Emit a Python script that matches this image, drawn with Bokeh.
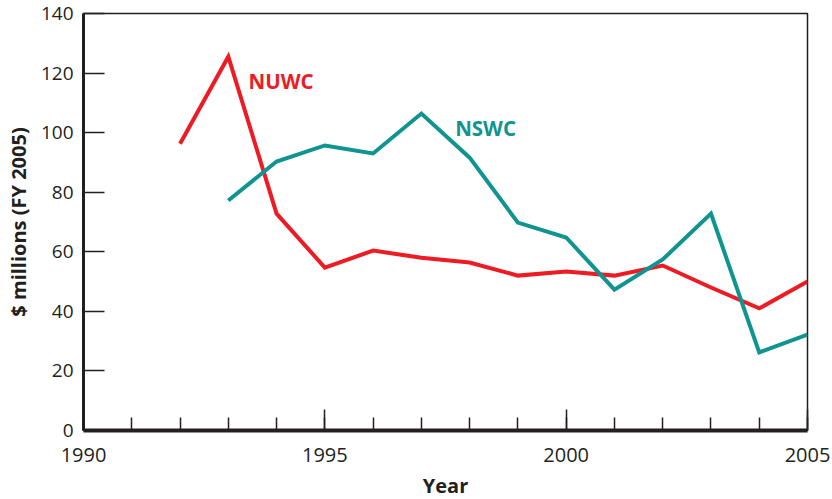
from bokeh.plotting import figure
from bokeh.models import Range1d, FixedTicker
from bokeh.core.properties import value
from bokeh.embed import file_html
from bokeh.resources import INLINE

years_nuwc = [1992, 1993, 1994, 1995, 1996, 1997, 1998, 1999, 2000, 2001, 2002, 2003, 2004, 2005]
nuwc = [96.3, 125.5, 72.8, 54.7, 60.4, 58.0, 56.4, 52.0, 53.4, 52.0, 55.4, 48.0, 41.0, 50.0]

years_nswc = [1993, 1994, 1995, 1996, 1997, 1998, 1999, 2000, 2001, 2002, 2003, 2004, 2005]
nswc = [77.2, 90.3, 95.7, 93.0, 106.4, 91.6, 69.8, 64.8, 47.3, 57.4, 72.8, 26.2, 32.2]

x_ticks = [1990, 1995, 2000, 2005]
x_minor = list(range(1990, 2006))
y_ticks = [0, 20, 40, 60, 80, 100, 120, 140]

FONT = "Open Sans"
INK = "#231F20"
RED = "#ED1C24"
TEAL = "#0F9490"

p = figure(frame_width=724, frame_height=417, output_backend="svg", toolbar_location=None,
           x_range=Range1d(1990, 2005), y_range=Range1d(0, 140),
           min_border_left=83, min_border_top=13, min_border_right=25, min_border_bottom=69)

p.xgrid.visible = False
p.ygrid.visible = False
p.outline_line_color = INK
p.outline_line_width = 1.5
p.background_fill_color = "white"
p.border_fill_color = "white"

p.line(years_nuwc, nuwc, line_color=RED, line_width=4, line_join="miter")
p.line(years_nswc, nswc, line_color=TEAL, line_width=4, line_join="miter")

p.text(x=[1993.42], y=[117.5], text=["NUWC"], text_color=RED, text_font=value(FONT),
       text_font_style="bold", text_font_size="20.5px", text_baseline="middle", text_align="left")
p.text(x=[1997.7], y=[101.7], text=["NSWC"], text_color=TEAL, text_font=value(FONT),
       text_font_style="bold", text_font_size="20.5px", text_baseline="middle", text_align="left")

xa = p.xaxis[0]
xa.ticker = FixedTicker(ticks=x_ticks, minor_ticks=x_minor)
xa.axis_line_width = 4
xa.axis_line_color = INK
xa.major_tick_in = 21
xa.major_tick_out = 0
xa.minor_tick_in = 13
xa.minor_tick_out = 0
xa.major_tick_line_color = INK
xa.minor_tick_line_color = INK
xa.major_tick_line_width = 1.5
xa.minor_tick_line_width = 1.5
xa.major_label_text_font = FONT
xa.major_label_text_font_size = "20px"
xa.major_label_text_color = INK
xa.major_label_standoff = 17
xa.axis_label = "Year"
xa.axis_label_text_font = FONT
xa.axis_label_text_font_style = "bold"
xa.axis_label_text_font_size = "20px"
xa.axis_label_text_color = INK
xa.axis_label_standoff = 7

ya = p.yaxis[0]
ya.ticker = FixedTicker(ticks=y_ticks, minor_ticks=[])
ya.axis_line_width = 3
ya.axis_line_color = INK
ya.major_tick_in = 21
ya.major_tick_out = 0
ya.minor_tick_line_color = None
ya.major_tick_line_color = INK
ya.major_tick_line_width = 1.5
ya.major_label_text_font = FONT
ya.major_label_text_font_size = "19px"
ya.major_label_text_color = INK
ya.major_label_standoff = 10
ya.axis_label = "$ millions (FY 2005)"
ya.axis_label_text_font = FONT
ya.axis_label_text_font_style = "bold"
ya.axis_label_text_font_size = "20px"
ya.axis_label_text_color = INK
ya.axis_label_standoff = 6

open("out.html", "w").write(file_html(p, INLINE))
